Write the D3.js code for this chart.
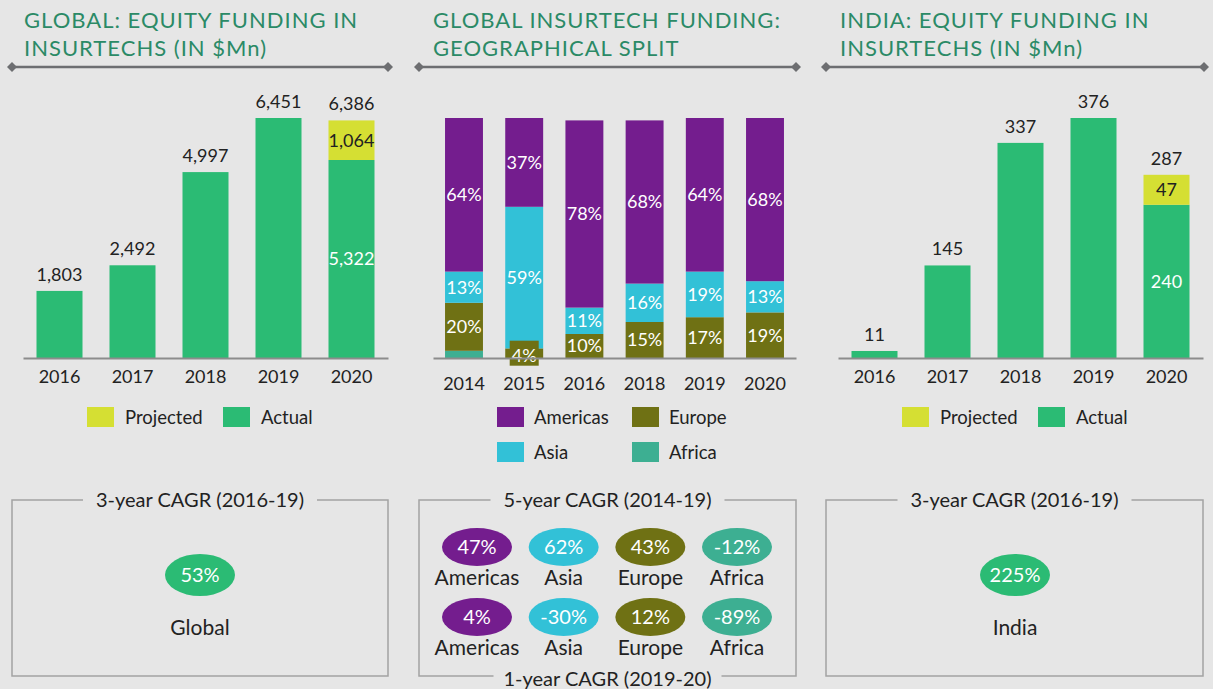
<!DOCTYPE html>
<html lang="en">
<head>
<meta charset="UTF-8">
<title>Insurtech funding</title>
<script src="https://d3js.org/d3.v7.min.js"></script>
<style>
  body { margin: 0; background: #e6e6e6; }
  svg { display: block; font-family: Lato, "Open Sans", sans-serif; }
  .title { fill: #2b8a66; font-size: 22px; letter-spacing: 1px; }
  .axis text { font-size: 18px; fill: #222; font-family: Lato, "Open Sans", sans-serif; }
  .axis path { stroke: #8c8c8c; stroke-width: 2px; }
  .val { font-size: 18px; fill: #222; text-anchor: middle; }
  .leg { font-size: 18.5px; fill: #222; }
  .boxline { stroke: #a3a3a3; stroke-width: 1.5px; fill: none; }
  .boxtitle { font-size: 20px; fill: #222; text-anchor: middle; }
</style>
</head>
<body>
<svg width="1213" height="689"></svg>
<script>
// ---- data ----
const fundYears = ["2016", "2017", "2018", "2019", "2020"];
const globalActual = [1803, 2492, 4997, 6451, 5322];
const globalProjected = [0, 0, 0, 0, 1064];
const indiaActual = [11, 145, 337, 376, 240];
const indiaProjected = [0, 0, 0, 0, 47];

const geoYears = ["2014", "2015", "2016", "2018", "2019", "2020"];
const regions = ["Americas", "Asia", "Europe", "Africa"];
const americas = [64, 37, 78, 68, 64, 68];
const asia = [13, 59, 11, 16, 19, 13];
const europe = [20, 4, 10, 15, 17, 19];
const africa = [3, 0, 0, 0, 0, 0];

const cagr5 = [47, 62, 43, -12];   // 2014-19
const cagr1 = [4, -30, 12, -89];   // 2019-20
const globalCagr = 53;
const indiaCagr = 225;

const green = "#2bbb74", yellow = "#d5df33";
const regionColor = d3.scaleOrdinal()
  .domain(regions)
  .range(["#741d8e", "#32c1d7", "#6f7114", "#3daf92"]);

const svg = d3.select("svg");
const fmt = d3.format(",");

// title + divider with diamond ends
function header(x, lines, x1, x2) {
  lines.forEach((t, i) => {
    svg.append("text").attr("class", "title")
      .attr("x", x).attr("y", 28 + i * 27.5).text(t);
  });
  svg.append("line").attr("x1", x1).attr("x2", x2).attr("y1", 67).attr("y2", 67)
    .attr("stroke", "#6d6e71").attr("stroke-width", 2.5);
  [x1, x2].forEach(cx => {
    svg.append("path")
      .attr("d", `M${cx - 5},67 L${cx},62 L${cx + 5},67 L${cx},72 Z`)
      .attr("fill", "#6d6e71");
  });
}

header(24, ["GLOBAL: EQUITY FUNDING IN", "INSURTECHS (IN $Mn)"], 12, 388);
header(433, ["GLOBAL INSURTECH FUNDING:", "GEOGRAPHICAL SPLIT"], 419, 796);
header(840, ["INDIA: EQUITY FUNDING IN", "INSURTECHS (IN $Mn)"], 826, 1204);

// funding bar chart (actual + projected)
function funding(x0, actual, projected) {
  const rows = fundYears.map((yr, i) => ({ yr, a: actual[i], p: projected[i], t: actual[i] + projected[i] }));
  const x = d3.scaleBand().domain(fundYears).range([x0, x0 + 365])
    .paddingInner(0.37).paddingOuter(0.185);
  const y = d3.scaleLinear().domain([0, d3.max(rows, d => d.t)]).range([358, 118]);
  const g = svg.append("g");

  g.selectAll(".act").data(rows).enter().append("rect")
    .attr("x", d => x(d.yr)).attr("width", x.bandwidth())
    .attr("y", d => y(d.a)).attr("height", d => y(0) - y(d.a))
    .attr("fill", green);
  g.selectAll(".proj").data(rows.filter(d => d.p > 0)).enter().append("rect")
    .attr("x", d => x(d.yr)).attr("width", x.bandwidth())
    .attr("y", d => y(d.t)).attr("height", d => y(d.a) - y(d.t))
    .attr("fill", yellow);

  g.selectAll(".tot").data(rows).enter().append("text").attr("class", "val")
    .attr("x", d => x(d.yr) + x.bandwidth() / 2).attr("y", d => y(d.t) - 10)
    .text(d => fmt(d.t));
  const split = rows.filter(d => d.p > 0);
  g.selectAll(".pl").data(split).enter().append("text").attr("class", "val")
    .attr("x", d => x(d.yr) + x.bandwidth() / 2).attr("y", d => (y(d.t) + y(d.a)) / 2)
    .attr("dy", "0.35em").text(d => fmt(d.p));
  g.selectAll(".al").data(split).enter().append("text").attr("class", "val")
    .attr("x", d => x(d.yr) + x.bandwidth() / 2).attr("y", d => (y(d.a) + y(0)) / 2)
    .attr("dy", "0.35em").style("fill", "#fff").text(d => fmt(d.a));

  g.append("g").attr("class", "axis").attr("transform", "translate(0,358)")
    .call(d3.axisBottom(x).tickSize(0).tickSizeOuter(0).tickPadding(12));

  // legend
  const leg = [["Projected", yellow, x0 + 64], ["Actual", green, x0 + 200]];
  leg.forEach(([t, c, lx]) => {
    g.append("rect").attr("x", lx).attr("y", 407).attr("width", 27).attr("height", 20).attr("fill", c);
    g.append("text").attr("class", "leg").attr("x", lx + 38).attr("y", 418).attr("dy", "0.35em").text(t);
  });
}
funding(23, globalActual, globalProjected);
funding(838, indiaActual, indiaProjected);

// geographical split stacked bars
(function () {
  const rows = geoYears.map((yr, i) => ({ yr, Americas: americas[i], Asia: asia[i], Europe: europe[i], Africa: africa[i] }));
  const stack = d3.stack().keys(["Africa", "Europe", "Asia", "Americas"])(rows);
  const x = d3.scaleBand().domain(geoYears).range([433, 796])
    .paddingInner(0.37).paddingOuter(0.2);
  const y = d3.scaleLinear().domain([0, 100]).range([358, 118]);
  const g = svg.append("g");

  const layer = g.selectAll(".layer").data(stack).enter().append("g")
    .attr("fill", d => regionColor(d.key));
  layer.selectAll("rect").data(d => d).enter().append("rect")
    .attr("x", d => x(d.data.yr)).attr("width", x.bandwidth())
    .attr("y", d => y(d[1])).attr("height", d => y(d[0]) - y(d[1]));

  const labels = [];
  stack.forEach(s => s.forEach(d => {
    const v = d[1] - d[0];
    if (v >= 4) labels.push({ key: s.key, v, cx: x(d.data.yr) + x.bandwidth() / 2, cy: (y(d[0]) + y(d[1])) / 2 });
  }));
  // small segment label sits on a tag of its own colour
  g.selectAll(".tag").data(labels.filter(d => d.v < 6)).enter().append("rect")
    .attr("x", d => d.cx - 14.5).attr("y", d => d.cy - 12.5).attr("width", 29).attr("height", 25)
    .attr("fill", d => regionColor(d.key));
  g.selectAll(".pct").data(labels).enter().append("text").attr("class", "val")
    .attr("x", d => d.cx).attr("y", d => d.cy + (d.v < 6 ? 2 : 0)).attr("dy", "0.35em")
    .style("fill", "#fff").text(d => d.v + "%");

  g.append("g").attr("class", "axis").attr("transform", "translate(0,358)")
    .call(d3.axisBottom(x).tickSize(0).tickSizeOuter(0).tickPadding(19));

  const legPos = [[497, 407], [497, 442], [632, 407], [632, 442]];
  regions.forEach((r, i) => {
    const [lx, ly] = legPos[i];
    g.append("rect").attr("x", lx).attr("y", ly).attr("width", 27).attr("height", 20).attr("fill", regionColor(r));
    g.append("text").attr("class", "leg").attr("x", lx + 37).attr("y", ly + 11).attr("dy", "0.35em").text(r);
  });
})();

// CAGR boxes
function box(x1, x2, top, bottom) {
  const cx = (x1 + x2) / 2;
  const y1 = 500, y2 = 676;
  const p = [];
  p.push(`M${cx - top.gap},${y1} H${x1} V${y2}`);
  if (bottom) p.push(`H${cx - bottom.gap} M${cx + bottom.gap},${y2} H${x2}`); else p.push(`H${x2}`);
  p.push(`V${y1} H${cx + top.gap}`);
  svg.append("path").attr("class", "boxline").attr("d", p.join(" "));
  svg.append("text").attr("class", "boxtitle").attr("x", cx).attr("y", y1).attr("dy", "0.35em").text(top.text);
  if (bottom) svg.append("text").attr("class", "boxtitle").attr("x", cx).attr("y", 679).attr("dy", "0.35em").text(bottom.text);
}
function pill(cx, cy, rx, ry, color, value) {
  svg.append("ellipse").attr("cx", cx).attr("cy", cy).attr("rx", rx).attr("ry", ry).attr("fill", color);
  svg.append("text").attr("x", cx).attr("y", cy).attr("dy", "0.35em").attr("text-anchor", "middle")
    .attr("fill", "#fff").attr("font-size", 20).text(value + "%");
}
function name(cx, cy, t) {
  svg.append("text").attr("x", cx).attr("y", cy).attr("dy", "0.35em").attr("text-anchor", "middle")
    .attr("fill", "#222").attr("font-size", 21).text(t);
}

box(12, 388, { text: "3-year CAGR (2016-19)", gap: 117 });
pill(200, 575, 35, 21, green, globalCagr);
name(200, 628, "Global");

box(826, 1203, { text: "3-year CAGR (2016-19)", gap: 117 });
pill(1015, 575, 35, 21, green, indiaCagr);
name(1015, 628, "India");

box(419, 796, { text: "5-year CAGR (2014-19)", gap: 117 }, { text: "1-year CAGR (2019-20)", gap: 114 });
const pillX = d3.scalePoint().domain(regions).range([477, 737]);
regions.forEach((r, i) => {
  pill(pillX(r), 547, 35, 19, regionColor(r), cagr5[i]);
  name(pillX(r), 578, r);
  pill(pillX(r), 617, 35, 19, regionColor(r), cagr1[i]);
  name(pillX(r), 648, r);
});
</script>
</body>
</html>
